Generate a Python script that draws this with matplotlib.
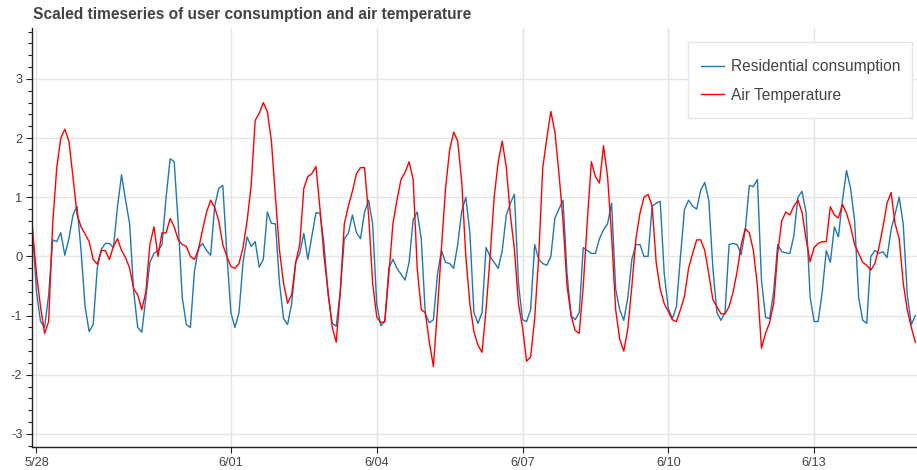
import matplotlib
matplotlib.use("Agg")
import matplotlib.pyplot as plt
from matplotlib.patches import Rectangle
from matplotlib.ticker import MultipleLocator, FixedLocator, FixedFormatter
import pandas as pd

title = "Scaled timeseries of user consumption and air temperature"
start = "2017-05-27 22:00"   # first sample, one sample every 2 hours
step = "2h"

# residential consumption, scaled (one row per day, 12 samples)
consumption = [
    0.5, -0.6, -1.1, -1.2, -0.65, 0.28, 0.25, 0.4, 0.02, 0.3, 0.7, 0.85,
    0.1, -0.85, -1.27, -1.15, -0.2, 0.12, 0.22, 0.22, 0.15, 0.84, 1.38, 0.95,
    0.55, -0.6, -1.2, -1.28, -0.7, -0.1, 0.05, 0.1, 0.2, 1.0, 1.65, 1.6,
    0.55, -0.7, -1.15, -1.2, -0.25, 0.14, 0.22, 0.1, 0.02, 0.85, 1.15, 1.2,
    0.05, -0.95, -1.2, -0.95, -0.1, 0.33, 0.17, 0.25, -0.18, -0.05, 0.75, 0.56,
    0.55, -0.45, -1.05, -1.15, -0.8, -0.1, 0.05, 0.39, -0.05, 0.35, 0.74, 0.73,
    0.2, -0.65, -1.13, -1.18, -0.6, 0.3, 0.39, 0.7, 0.4, 0.3, 0.75, 0.95,
    0.55, -0.8, -1.17, -1.1, -0.2, -0.05, -0.2, -0.3, -0.4, -0.1, 0.62, 0.75,
    0.3, -0.97, -1.12, -1.07, -0.3, 0.1, -0.1, -0.12, -0.2, 0.2, 0.77, 1.0,
    0.4, -0.95, -1.13, -0.95, 0.15, 0.0, -0.1, -0.2, 0.1, 0.7, 0.9, 1.05,
    -0.45, -1.07, -1.1, -0.9, 0.2, -0.05, -0.12, -0.15, 0.0, 0.65, 0.8, 0.95,
    -0.3, -1.0, -1.07, -0.95, 0.15, 0.1, 0.05, 0.05, 0.3, 0.45, 0.55, 0.9,
    -0.55, -0.9, -1.08, -0.7, -0.05, 0.2, 0.2, 0.0, 0.0, 0.85, 0.9, 0.93,
    -0.3, -0.88, -1.05, -0.85, 0.0, 0.8, 0.95, 0.85, 0.8, 1.12, 1.25, 0.95,
    -0.2, -0.95, -1.08, -0.95, 0.2, 0.22, 0.2, 0.03, 0.45, 1.2, 1.18, 1.3,
    -0.4, -1.03, -1.05, -0.6, 0.2, 0.08, 0.06, 0.05, 0.35, 1.0, 1.1, 0.75,
    -0.68, -1.1, -1.1, -0.6, 0.1, -0.1, 0.5, 0.33, 0.95, 1.45, 1.15, 0.6,
    -0.7, -1.08, -1.13, 0.0, 0.1, 0.05, 0.08, -0.02, 0.45, 0.72, 1.0, 0.55,
    -0.65, -1.15, -1.0,
]

# air temperature, scaled
temperature = [
    0.45, -0.3, -0.85, -1.3, -1.1, 0.55, 1.5, 2.0, 2.15, 1.95, 1.35, 0.72,
    0.5, 0.38, 0.25, -0.05, -0.13, 0.1, 0.1, -0.05, 0.17, 0.3, 0.1, -0.02,
    -0.2, -0.55, -0.65, -0.9, -0.6, 0.2, 0.5, 0.0, 0.4, 0.4, 0.64, 0.5,
    0.28, 0.2, 0.17, 0.0, -0.05, 0.12, 0.45, 0.75, 0.95, 0.83, 0.6, 0.2,
    0.0, -0.17, -0.2, -0.12, 0.15, 0.6, 1.2, 2.3, 2.42, 2.6, 2.45, 1.95,
    1.0, 0.1, -0.45, -0.79, -0.65, -0.1, 0.2, 1.15, 1.35, 1.4, 1.52, 0.8,
    0.0, -0.6, -1.19, -1.45, -0.6, 0.55, 0.85, 1.1, 1.4, 1.5, 1.5, 0.7,
    -0.45, -1.02, -1.12, -1.1, -0.3, 0.55, 0.95, 1.3, 1.42, 1.6, 1.3, -0.2,
    -0.9, -0.95, -1.45, -1.86, -0.9, 0.15, 1.15, 1.8, 2.1, 1.95, 1.25, 0.0,
    -0.8, -1.27, -1.5, -1.62, -0.9, 0.0, 1.0, 1.6, 1.95, 1.5, 0.7, 0.12,
    -0.8, -1.2, -1.77, -1.7, -1.05, 0.0, 1.5, 2.0, 2.45, 2.1, 1.4, 0.6,
    -0.5, -1.0, -1.25, -1.3, -0.5, 0.6, 1.6, 1.35, 1.24, 1.87, 1.35, 0.35,
    -0.9, -1.4, -1.6, -1.22, -0.5, 0.3, 0.73, 1.0, 1.05, 0.85, -0.1, -0.55,
    -0.8, -0.93, -1.07, -1.1, -0.9, -0.67, -0.2, 0.05, 0.28, 0.28, 0.1, -0.3,
    -0.73, -0.85, -0.97, -0.97, -0.85, -0.6, -0.25, 0.2, 0.47, 0.4, 0.1, -0.5,
    -1.55, -1.3, -1.12, -0.8, 0.05, 0.6, 0.75, 0.7, 0.85, 0.95, 0.75, 0.3,
    -0.09, 0.15, 0.22, 0.25, 0.25, 0.84, 0.7, 0.65, 0.88, 0.73, 0.5, 0.2,
    0.05, -0.1, -0.15, -0.23, -0.12, 0.15, 0.5, 0.9, 1.08, 0.55, 0.3, -0.45,
    -0.9, -1.2, -1.45,
]

tick_dates = ["2017-05-28", "2017-06-01", "2017-06-04", "2017-06-07", "2017-06-10", "2017-06-13"]
tick_labels = ["5/28", "6/01", "6/04", "6/07", "6/10", "6/13"]
y_ticks = [-3, -2, -1, 0, 1, 2, 3]

times = pd.date_range(start, periods=len(consumption), freq=step)

plt.rcParams["font.family"] = ["Liberation Sans", "DejaVu Sans"]
plt.rcParams["axes.unicode_minus"] = False
W, H = 917, 470
fig = plt.figure(figsize=(W / 100, H / 100), dpi=100)
ax = fig.add_axes([32 / W, 23 / H, 885 / W, 419 / H])

ax.plot(times, consumption, color="#1f77b4", lw=1.0, label="Residential consumption")
ax.plot(times, temperature, color="red", lw=1.0, label="Air Temperature")

ax.set_xlim(times[0] - pd.Timedelta(minutes=13), times[0] + pd.Timedelta(hours=436.8))
ax.set_ylim(-3.22, 3.86)

ax.xaxis.set_major_locator(FixedLocator(matplotlib.dates.date2num(pd.to_datetime(tick_dates))))
ax.xaxis.set_major_formatter(FixedFormatter(tick_labels))
ax.yaxis.set_major_locator(FixedLocator(y_ticks))
ax.yaxis.set_minor_locator(MultipleLocator(0.2))

ax.grid(True, which="major", color="#e5e5e5", lw=1)
ax.set_axisbelow(True)
for side in ["top", "right"]:
    ax.spines[side].set_visible(False)
for side in ["left", "bottom"]:
    ax.spines[side].set_color("#222222")
    ax.spines[side].set_linewidth(1)

ax.tick_params(which="major", length=4.5, width=0.8, color="#222222",
               labelcolor="#444444", labelsize=9.2, pad=2.5)
ax.tick_params(axis="y", which="minor", length=3, width=0.8, color="#222222")

fig.text(33 / W, 1 - 15 / H, title, fontsize=11.2, fontweight="bold",
         color="#444444", va="center", ha="left")

# legend box drawn by hand so its padding can match the original
box = Rectangle((688 / W, 1 - 118 / H), 224 / W, 76 / H, transform=fig.transFigure,
                facecolor="white", edgecolor="#e5e5e5", lw=1, zorder=4, clip_on=False)
ax.add_artist(box)
leg = ax.legend(loc="upper left", bbox_to_anchor=(700.5 / W, 1 - 59 / H),
                bbox_transform=fig.transFigure, borderaxespad=0, borderpad=0,
                fontsize=11.2, frameon=False, handlelength=1.5, handletextpad=0.45,
                labelspacing=0.87)
leg.set_zorder(5)
for t in leg.get_texts():
    t.set_color("#444444")

fig.savefig("out.png", dpi=100)
